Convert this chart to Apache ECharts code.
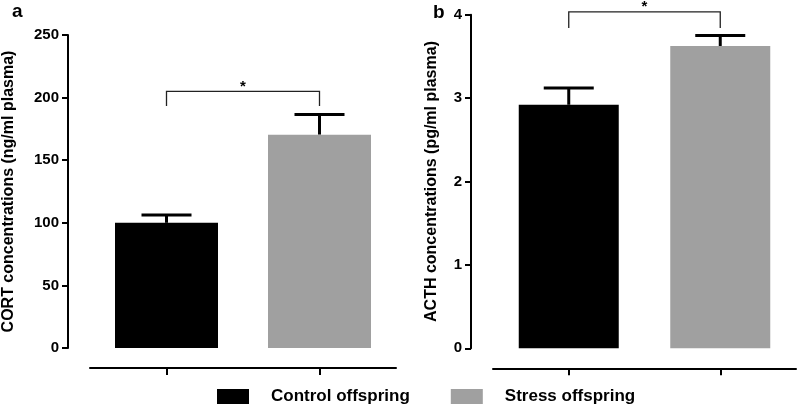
<!DOCTYPE html>
<html>
<head>
<meta charset="utf-8">
<script src="https://cdn.jsdelivr.net/npm/echarts@6/dist/echarts.min.js"></script>
<style>
  html, body { margin: 0; padding: 0; background: #fff; }
  #main { width: 797px; height: 407px; }
</style>
</head>
<body>
<div id="main"></div>
<script>
// groups and values
var groups = ['Control offspring', 'Stress offspring'];
var cortMean = [100, 170.4];
var cortErr = [106.2, 186.6];
var acthMean = [2.92, 3.625];
var acthErr = [3.12, 3.75];
// significance brackets: [left, right, level, drop end]
var cortSig = [[0, 1, 205, 193.3]];
var acthSig = [[0, 1, 4.035, 3.84]];
var cortTicks = { min: 0, max: 250, interval: 50 };
var acthTicks = { min: 0, max: 4, interval: 1 };

var colors = ['#000000', '#a0a0a0'];
var font = 'Liberation Sans, Arial, sans-serif';

var myChart = echarts.init(document.getElementById('main'));

function errItem(params, api) {
  var x = api.value(0);
  var p0 = api.coord([x, api.value(1)]);
  var p1 = api.coord([x, api.value(2)]);
  return {
    type: 'group',
    children: [
      { type: 'line', shape: { x1: p0[0], y1: p0[1], x2: p1[0], y2: p1[1] }, style: { stroke: '#000', lineWidth: 3 } },
      { type: 'line', shape: { x1: p1[0] - 25, y1: p1[1], x2: p1[0] + 25, y2: p1[1] }, style: { stroke: '#000', lineWidth: 3 } }
    ]
  };
}

function sigItem(params, api) {
  var a = api.coord([api.value(0), api.value(2)]);
  var b = api.coord([api.value(1), api.value(2)]);
  var a2 = api.coord([api.value(0), api.value(3)]);
  var b2 = api.coord([api.value(1), api.value(3)]);
  return {
    type: 'group',
    children: [
      { type: 'polyline', shape: { points: [[a2[0], a2[1]], [a[0], a[1]], [b[0], b[1]], [b2[0], b2[1]]] },
        style: { stroke: '#222', lineWidth: 1.3, fill: null } },
      { type: 'text', x: (a[0] + b[0]) / 2, y: a[1] + 3,
        style: { text: '*', fill: '#000', font: 'bold 15px ' + font, textAlign: 'center', textVerticalAlign: 'bottom' } }
    ]
  };
}

function pad(arr, i) {
  return arr.map(function (v, j) { return j === i ? v : '-'; });
}

var yAxisBase = {
  type: 'value',
  offset: 22,
  nameLocation: 'middle',
  nameTextStyle: { fontFamily: font, fontWeight: 'bold', fontSize: 16, color: '#000' },
  splitLine: { show: false },
  axisLine: { show: true, lineStyle: { color: '#000', width: 2 } },
  axisTick: { show: true, length: 6, lineStyle: { color: '#000', width: 2 } },
  axisLabel: { fontFamily: font, fontWeight: 'bold', fontSize: 15, color: '#000', margin: 9 }
};

var xAxisBase = {
  type: 'category',
  data: groups,
  offset: 20,
  axisLine: { onZero: false, lineStyle: { color: '#000', width: 2 } },
  axisTick: { show: true, interval: 0, alignWithLabel: true, length: 7, lineStyle: { color: '#000', width: 2 } },
  axisLabel: { show: true, interval: 0, formatter: function () { return ''; } }
};

var option = {
  animation: false,
  grid: [
    { left: 88, right: 401, top: 35, bottom: 59 },
    { left: 493, right: 1, top: 14.7, bottom: 58.7 }
  ],
  xAxis: [
    Object.assign({ gridIndex: 0 }, xAxisBase),
    Object.assign({ gridIndex: 1 }, xAxisBase)
  ],
  yAxis: [
    Object.assign({ gridIndex: 0, name: 'CORT concentrations (ng/ml plasma)', nameGap: 51 }, yAxisBase, cortTicks),
    Object.assign({ gridIndex: 1, name: 'ACTH concentrations (pg/ml plasma)', nameGap: 31 }, yAxisBase, acthTicks)
  ],
  legend: {
    data: groups,
    left: 217,
    top: 388,
    padding: 0,
    icon: 'rect',
    itemWidth: 32,
    itemHeight: 15,
    itemGap: 41,
    textStyle: { fontFamily: font, fontWeight: 'bold', fontSize: 17, lineHeight: 15, color: '#000', padding: [0, 0, 0, 17] }
  },
  graphic: [
    { type: 'text', left: 12, top: 2, style: { text: 'a', font: 'bold 19px ' + font, fill: '#000' } },
    { type: 'text', left: 433, top: 3, style: { text: 'b', font: 'bold 19px ' + font, fill: '#000' } }
  ],
  series: [
    { name: groups[0], type: 'bar', xAxisIndex: 0, yAxisIndex: 0, data: pad(cortMean, 0), barWidth: 103, barGap: '-100%', itemStyle: { color: colors[0] } },
    { name: groups[1], type: 'bar', xAxisIndex: 0, yAxisIndex: 0, data: pad(cortMean, 1), barWidth: 103, barGap: '-100%', itemStyle: { color: colors[1] } },
    { name: groups[0], type: 'bar', xAxisIndex: 1, yAxisIndex: 1, data: pad(acthMean, 0), barWidth: 100, barGap: '-100%', itemStyle: { color: colors[0] } },
    { name: groups[1], type: 'bar', xAxisIndex: 1, yAxisIndex: 1, data: pad(acthMean, 1), barWidth: 100, barGap: '-100%', itemStyle: { color: colors[1] } },
    { type: 'custom', xAxisIndex: 0, yAxisIndex: 0, renderItem: errItem, encode: { x: 0, y: [1, 2] },
      data: cortMean.map(function (v, i) { return [i, v, cortErr[i]]; }), z: 1 },
    { type: 'custom', xAxisIndex: 1, yAxisIndex: 1, renderItem: errItem, encode: { x: 0, y: [1, 2] },
      data: acthMean.map(function (v, i) { return [i, v, acthErr[i]]; }), z: 1 },
    { type: 'custom', xAxisIndex: 0, yAxisIndex: 0, renderItem: sigItem, encode: { x: [0, 1], y: [2, 3] }, clip: false, data: cortSig },
    { type: 'custom', xAxisIndex: 1, yAxisIndex: 1, renderItem: sigItem, encode: { x: [0, 1], y: [2, 3] }, clip: false, data: acthSig }
  ]
};

myChart.setOption(option);
</script>
</body>
</html>
